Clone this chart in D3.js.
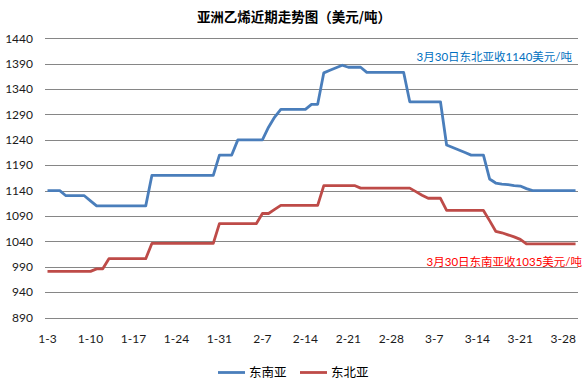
<!DOCTYPE html>
<html><head><meta charset="utf-8">
<script src="https://cdn.jsdelivr.net/npm/d3@7"></script>
<style>body{margin:0;background:#fff}svg{display:block}</style>
</head><body>
<svg id="c" width="587" height="383"></svg>
<script>
const title = "亚洲乙烯近期走势图（美元/吨）";
const categories = [
"1-3","1-4","1-5","1-6","1-7","1-8","1-9","1-10","1-11","1-12","1-13","1-14","1-15","1-16","1-17","1-18","1-19","1-20","1-21","1-22","1-23","1-24","1-25","1-26","1-27","1-28","1-29","1-30","1-31",
"2-1","2-2","2-3","2-4","2-5","2-6","2-7","2-8","2-9","2-10","2-11","2-12","2-13","2-14","2-15","2-16","2-17","2-18","2-19","2-20","2-21","2-22","2-23","2-24","2-25","2-26","2-27","2-28",
"3-1","3-2","3-3","3-4","3-5","3-6","3-7","3-8","3-9","3-10","3-11","3-12","3-13","3-14","3-15","3-16","3-17","3-18","3-19","3-20","3-21","3-22","3-23","3-24","3-25","3-26","3-27","3-28","3-29","3-30"];
const xTickLabels = ["1-3","1-10","1-17","1-24","1-31","2-7","2-14","2-21","2-28","3-7","3-14","3-21","3-28"];
const yTickLabels = [890,940,990,1040,1090,1140,1190,1240,1290,1340,1390,1440];
const seNames = ["东南亚","东北亚"];
const southeast = [
1140,1140,1140,1130,1130,1130,1130,1120,1110,1110,1110,1110,1110,1110,1110,1110,1110,
1170,1170,1170,1170,1170,1170,1170,1170,1170,1170,1170,
1210,1210,1210,1240,1240,1240,1240,1240,1265,1285,1300,1300,1300,1300,1300,1310,1310,
1372,1377,1382,1387,1383,1383,1383,1373,1373,1373,1373,1373,1373,1373,
1315,1315,1315,1315,1315,1315,1230,1225,1220,1215,1210,1210,1210,
1163,1155,1153,1152,1150,1149,1144,1140,1140,1140,1140,1140,1140,1140,1140];
const northeast = [
981,981,981,981,981,981,981,981,986,986,1006,1006,1006,1006,1006,1006,1006,
1036,1036,1036,1036,1036,1036,1036,1036,1036,1036,1036,
1075,1075,1075,1075,1075,1075,1075,1095,1095,1103,1111,1111,1111,1111,1111,1111,1111,
1150,1150,1150,1150,1150,1150,1145,1145,1145,1145,1145,1145,1145,1145,1145,
1138,1131,1125,1125,1125,1101,1101,1101,1101,1101,1101,1101,
1081,1060,1057,1053,1049,1044,1035,1035,1035,1035,1035,1035,1035,1035,1035];
const noteNE = "3月30日东北亚收1140美元/吨";
const noteSE = "3月30日东南亚收1035美元/吨";

const svg = d3.select("#c");
const colors = ["#4A7EBB","#BE4B48"];
const numFont = "Lato, 'Noto Sans CJK SC', sans-serif";
const cjkFont = "'Noto Sans CJK SC', sans-serif";

const x = d3.scalePoint().domain(categories).range([47.5, 47.5 + 86*6.14]);
const y = d3.scaleLinear().domain([890,1440]).range([317.6,38.3]);

// gridlines
svg.append("g").selectAll("line").data(yTickLabels).join("line")
  .attr("x1",45).attr("x2",578)
  .attr("y1",d=>Math.round(y(d))+0.5).attr("y2",d=>Math.round(y(d))+0.5)
  .attr("stroke","#868686").attr("stroke-width",1);

// y labels
svg.append("g").selectAll("text").data(yTickLabels).join("text")
  .attr("x",33).attr("y",d=>y(d)).attr("dy","0.35em")
  .attr("text-anchor","end").attr("font-family",numFont).attr("font-size",12)
  .attr("fill","#1a1a1a").text(d=>d);

// x labels
svg.append("g").selectAll("text").data(xTickLabels).join("text")
  .attr("x",d=>x(d)).attr("y",342.5)
  .attr("text-anchor","middle").attr("font-family",numFont).attr("font-size",12)
  .attr("fill","#1a1a1a").text(d=>d);

// lines
const line = d3.line().x((d,i)=>x(categories[i])).y(d=>y(d));
[southeast,northeast].forEach((s,k)=>{
  svg.append("path").datum(s).attr("d",line)
    .attr("fill","none").attr("stroke",colors[k]).attr("stroke-width",2.8)
    .attr("stroke-linejoin","round");
});

// title
svg.append("text").attr("x",294).attr("y",21.5).attr("text-anchor","middle")
  .attr("font-family",cjkFont).attr("font-size",13.5).attr("font-weight","bold")
  .attr("fill","#000").text(title);

// annotations
svg.append("text").attr("x",572).attr("y",61).attr("text-anchor","end")
  .attr("font-family",numFont).attr("font-size",11.5).attr("fill","#0070C0").text(noteNE);
svg.append("text").attr("x",582).attr("y",266).attr("text-anchor","end")
  .attr("font-family",numFont).attr("font-size",11.5).attr("fill","#FF0000").text(noteSE);

// legend
const legX = [218,300];
seNames.forEach((n,k)=>{
  svg.append("line").attr("x1",legX[k]).attr("x2",legX[k]+27).attr("y1",372.5).attr("y2",372.5)
    .attr("stroke",colors[k]).attr("stroke-width",2.8);
  svg.append("text").attr("x",legX[k]+31).attr("y",377).attr("font-family",cjkFont)
    .attr("font-size",12.5).attr("fill","#000").text(n);
});
</script>
</body></html>
